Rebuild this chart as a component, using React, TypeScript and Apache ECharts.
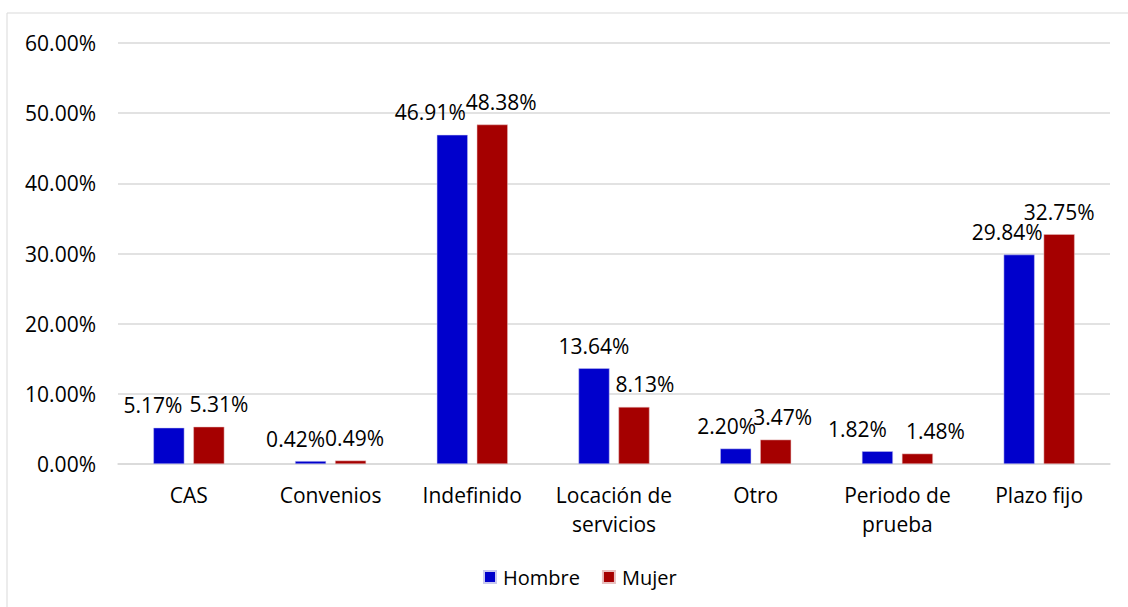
import React, { useEffect, useRef } from "react";
import * as echarts from "echarts";

const categories = ["CAS", "Convenios", "Indefinido", "Locación de\nservicios", "Otro", "Periodo de\nprueba", "Plazo fijo"];
const hombre = [5.17, 0.42, 46.91, 13.64, 2.2, 1.82, 29.84];
const mujer = [5.31, 0.49, 48.38, 8.13, 3.47, 1.48, 32.75];
const seriesNames = ["Hombre", "Mujer"];
const yTicks = [0, 10, 20, 30, 40, 50, 60];

const FONT = "Open Sans";
const FS = 21;

export default function App() {
  const ref = useRef<HTMLDivElement>(null);
  useEffect(() => {
    const chart = echarts.init(ref.current!, null, { renderer: "svg" });
    // horizontal label shifts (px) to keep neighbouring labels apart, as in the reference
    const hShift = [-16, -15, -22, 0, -9, -20, -12];
    const mShift = [10, 4, 9, 11, 7, 18, 0];
    const mk = (vals: number[], shift: number[]) =>
      vals.map((v, i) => ({ value: v, label: { offset: [shift[i], 0] } }));
    const labelCfg = {
      show: true,
      position: "top" as const,
      distance: 12,
      color: "#000",
      fontFamily: FONT,
      fontSize: FS,
      formatter: (p: any) => Number(p.value).toFixed(2) + "%",
    };
    chart.setOption({
      animation: false,
      textStyle: { fontFamily: FONT },
      graphic: [
        {
          type: "rect",
          shape: { x: 7, y: 13, width: 1140, height: 620 },
          style: { fill: "none", stroke: "#d9d9d9", lineWidth: 1 },
          silent: true,
        },
      ],
      grid: { left: 118, right: 18, top: 43, bottom: 143 },
      legend: {
        bottom: 15,
        left: 478,
        itemWidth: 12,
        itemHeight: 12,
        itemGap: 22,
        icon: "rect",
        textStyle: { fontFamily: FONT, fontSize: 20, color: "#000", padding: [0, 0, 0, 2] },
        data: seriesNames,
      },
      xAxis: {
        type: "category",
        data: categories,
        axisLine: { lineStyle: { color: "#d9d9d9", width: 1.5 } },
        axisTick: { show: false },
        axisLabel: { color: "#000", fontFamily: FONT, fontSize: FS, margin: 16, lineHeight: 29, interval: 0 },
      },
      yAxis: {
        type: "value",
        min: yTicks[0],
        max: yTicks[yTicks.length - 1],
        interval: 10,
        axisLine: { show: false },
        axisTick: { show: false },
        splitLine: { lineStyle: { color: "#d9d9d9", width: 1.5 } },
        axisLabel: {
          color: "#000",
          fontFamily: FONT,
          fontSize: FS,
          margin: 22,
          formatter: (v: number) => v.toFixed(2) + "%",
        },
      },
      series: [
        {
          name: seriesNames[0],
          type: "bar",
          data: mk(hombre, hShift),
          barWidth: 31,
          barGap: "29%",
          itemStyle: { color: "#0000CC", borderColor: "#c9c9f0", borderWidth: 0.5 },
          label: labelCfg,
        },
        {
          name: seriesNames[1],
          type: "bar",
          data: mk(mujer, mShift),
          barWidth: 31,
          itemStyle: { color: "#A50000", borderColor: "#e8c0c0", borderWidth: 0.5 },
          label: labelCfg,
        },
      ],
    });
    return () => chart.dispose();
  }, []);
  return (
    <div
      ref={ref}
      style={{ position: "absolute", left: 0, top: 0, width: 1128, height: 607 }}
    />
  );
}
